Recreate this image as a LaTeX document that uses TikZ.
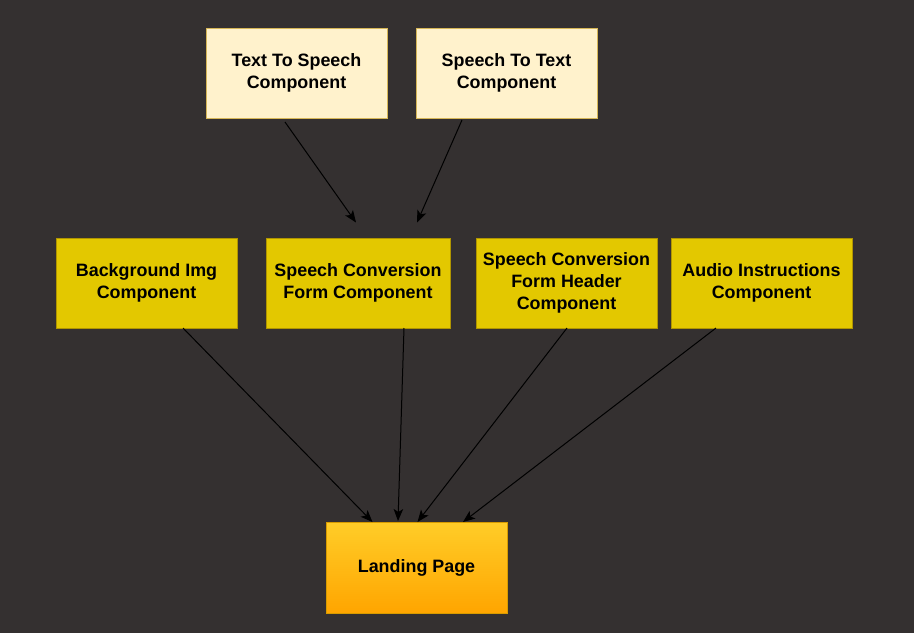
\documentclass[tikz,border=0pt]{standalone}
\usepackage{fontspec}
\setmainfont{Liberation Sans}
\usetikzlibrary{arrows.meta}
\definecolor{bgdark}{HTML}{343030}
\definecolor{lightfill}{HTML}{FFF2CC}
\definecolor{lightdraw}{HTML}{D6B656}
\definecolor{yelfill}{HTML}{E3C800}
\definecolor{yeldraw}{HTML}{B09500}
\definecolor{orTop}{HTML}{FFCD28}
\definecolor{orBot}{HTML}{FFA500}
\definecolor{ordraw}{HTML}{D79B00}
\tikzset{
  box/.style={draw, line width=1pt, minimum height=90pt, inner sep=0pt,
    align=center, font=\fontsize{17.9}{21.8}\selectfont\bfseries, text=black},
  lightbox/.style={box, fill=lightfill, draw=lightdraw, minimum width=181pt},
  yelbox/.style={box, fill=yelfill, draw=yeldraw, minimum width=181pt},
  landbox/.style={box, top color=orTop, bottom color=orBot, draw=ordraw, minimum width=181pt, minimum height=91pt},
  conn/.style={draw=black, line width=1pt, -{Stealth[length=12pt,width=9.5pt,inset=3pt]}}
}
\begin{document}
\begin{tikzpicture}[x=1pt,y=-1pt]
\fill[bgdark] (0,0) rectangle (914,633);
\useasboundingbox (0,0) rectangle (914,633);
\node[lightbox] (tts) at (296.5,73) {Text To Speech\\Component};
\node[lightbox] (stt) at (506.5,73) {Speech To Text\\Component};
\node[yelbox] (bg) at (146.5,283) {Background Img\\Component};
\node[yelbox, minimum width=184pt] (scf) at (358,283) {Speech Conversion\\Form Component};
\node[yelbox] (scfh) at (566.5,283) {Speech Conversion\\Form Header\\Component};
\node[yelbox] (aud) at (761.5,283) {Audio Instructions\\Component};
\node[landbox] (land) at (416.5,567.5) {Landing Page};
% connector ends
\coordinate (ttsS) at (285,122);
\coordinate (sttS) at (462,120);
\coordinate (scfA) at (356,222.5);
\coordinate (scfB) at (417,222.5);
\coordinate (bgS) at (183,328);
\coordinate (scfS) at (404,328);
\coordinate (scfhS) at (567,328);
\coordinate (audS) at (716,328);
\coordinate (landA) at (372.5,522);
\coordinate (landB) at (398,521);
\coordinate (landC) at (417.5,522);
\coordinate (landD) at (463,522);
\draw[conn] (ttsS) -- (scfA);
\draw[conn] (sttS) -- (scfB);
\draw[conn] (bgS) -- (landA);
\draw[conn] (scfS) -- (landB);
\draw[conn] (scfhS) -- (landC);
\draw[conn] (audS) -- (landD);
\end{tikzpicture}
\end{document}
